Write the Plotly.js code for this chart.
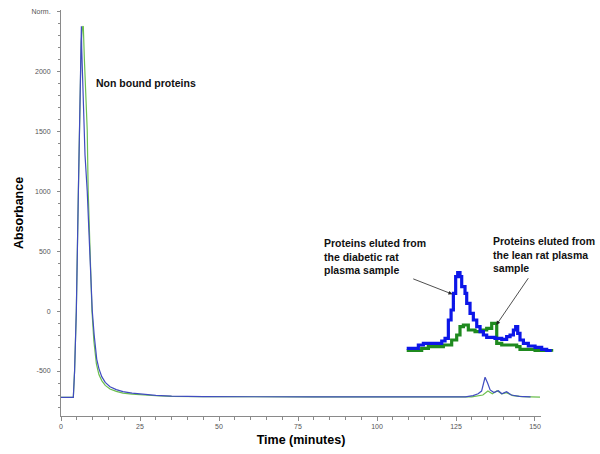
<!DOCTYPE html>
<html>
<head>
<meta charset="utf-8">
<script src="https://cdn.plot.ly/plotly-3.0.1.min.js"></script>
<style>html,body{margin:0;padding:0;background:#fff;}#chart{width:600px;height:454px;}</style>
</head>
<body>
<div id="chart"></div>
<script>
// Main chromatogram: diabetic rat plasma (blue)
const blueTime = [0, 3.9, 4.3, 4.85, 5.5, 6.0, 6.33, 6.45, 6.55, 7.06, 7.6, 8.3, 8.9, 9.4, 9.9, 10.5, 11.3, 12.0, 12.9, 14, 15.5, 17.5, 19.6, 22.5, 26, 30, 35, 45, 80, 128, 130.4, 132, 133.1, 134.2, 135, 135.8, 137, 138.4, 139.5, 141, 142.5, 145, 148.6];
const blueAbs  = [-720, -720, -500, 0, 1000, 1700, 2375, 2375, 2190, 1700, 1300, 1000, 600, 340, 0, -200, -400, -480, -547, -595, -631, -655, -672, -685, -694, -703, -710, -714, -715, -715, -705, -690, -667, -552, -600, -658, -680, -664, -690, -672, -700, -712, -715];
// Main chromatogram: lean rat plasma (green)
const greenTime = [0, 3.9, 4.3, 4.85, 5.5, 6.0, 6.4, 6.8, 7.06, 7.4, 8.3, 8.6, 8.9, 9.4, 9.8, 10.4, 11.2, 12.0, 12.9, 14, 15.5, 17.5, 19.6, 22.5, 26, 30, 35, 45, 80, 130, 133.5, 135.1, 136.5, 138, 139.5, 141, 143, 146, 151.6];
const greenAbs  = [-720, -720, -500, 0, 1000, 1700, 2250, 2370, 2375, 2100, 1508, 1000, 780, 340, 0, -250, -440, -530, -580, -620, -650, -670, -684, -693, -700, -706, -711, -714, -715, -715, -700, -667, -690, -664, -690, -680, -705, -714, -718];
// Inset (enlarged late-eluting region, step trace)
const insetBlueTime = [128.2, 129.57, 130.16, 132.32, 132.71, 133.10, 133.42, 133.69, 133.96, 134.2, 134.47, 134.67, 135.06, 135.26, 135.65, 136.04, 136.44, 136.83, 137.22, 137.61, 138.59, 139.38, 139.96, 140.36, 140.75, 141.02, 141.26, 141.53, 141.93, 142.51, 143.30, 144.08, 144.67, 145.26];
const insetBlueAbs  = [7.3, 14, 17.3, 22, 27.3, 64, 84, 117.3, 150.7, 158.7, 150.7, 130.7, 117.3, 97.3, 77.3, 64, 50.7, 40.7, 34, 29.3, 27.3, 25.3, 30.7, 34, 44, 50.7, 37.3, 24, 17.3, 12, 9.3, 5.3, 2.7, 2.7];
const insetGreenTime = [128.2, 129.96, 130.75, 132.51, 133.49, 134.08, 134.47, 134.87, 135.45, 136.24, 137.02, 137.61, 138.2, 138.79, 139.38, 141.14, 141.53, 143.3, 145.26];
const insetGreenAbs  = [2.7, 7.3, 10.7, 14, 24, 34, 50.7, 54, 44, 40.7, 44, 47.3, 57.3, 17.3, 14, 10.7, 5.3, 2.7, 0.7];
// Axis ticks
const xTickVals = [0, 25, 50, 75, 100, 125, 150];
const yTickVals = [-500, 0, 500, 1000, 1500, 2000, 2500];
const yTickText = ['-500', '0', '500', '1000', '1500', '2000', 'Norm.'];

const traces = [
  {x: greenTime, y: greenAbs, type: 'scatter', mode: 'lines', line: {color: '#6cbf4e', width: 1.2}, xaxis: 'x', yaxis: 'y', hoverinfo: 'skip'},
  {x: blueTime, y: blueAbs, type: 'scatter', mode: 'lines', line: {color: '#404cc0', width: 1.2}, xaxis: 'x', yaxis: 'y', hoverinfo: 'skip'},
  {x: insetGreenTime, y: insetGreenAbs, type: 'scatter', mode: 'lines', line: {color: '#1f8a1f', width: 3.2, shape: 'hv'}, xaxis: 'x2', yaxis: 'y2', hoverinfo: 'skip'},
  {x: insetBlueTime, y: insetBlueAbs, type: 'scatter', mode: 'lines', line: {color: '#0c16e8', width: 3.2, shape: 'hv'}, xaxis: 'x2', yaxis: 'y2', hoverinfo: 'skip'}
];

const tickFont = {family: 'Arial, Liberation Sans, sans-serif', size: 7, color: '#555'};
const titleFont = {family: 'Arial, Liberation Sans, sans-serif', size: 12.5, color: '#000', weight: 'bold'};
const noteFont = {family: 'Arial, Liberation Sans, sans-serif', size: 10.5, color: '#111', weight: 'bold'};

const layout = {
  width: 600, height: 454,
  margin: {l: 61, r: 40, t: 10, b: 38},
  paper_bgcolor: '#fff', plot_bgcolor: '#fff',
  showlegend: false,
  xaxis: {
    domain: [0, 0.96192], range: [0, 151.9], anchor: 'y',
    showgrid: false, zeroline: false, showline: true, linecolor: '#8a8a8a', linewidth: 1,
    tickmode: 'array', tickvals: xTickVals, ticks: 'outside', ticklen: 4, tickcolor: '#8a8a8a', tickfont: tickFont,
    minor: {dtick: 5, ticks: 'outside', ticklen: 3, tickcolor: '#8a8a8a'},
    title: {text: 'Time (minutes)', font: titleFont, standoff: 5},
    automargin: false, fixedrange: true
  },
  yaxis: {
    domain: [0, 1], range: [-875, 2510], anchor: 'x',
    showgrid: false, zeroline: false, showline: true, linecolor: '#8a8a8a', linewidth: 1,
    tickmode: 'array', tickvals: yTickVals, ticktext: yTickText, ticks: 'outside', ticklen: 3, tickcolor: '#8a8a8a', tickfont: tickFont,
    ticklabelstandoff: 5,
    minor: {dtick: 100, ticks: 'outside', ticklen: 2, tickcolor: '#8a8a8a'},
    title: {text: 'Absorbance', font: titleFont, standoff: 5},
    automargin: false, fixedrange: true
  },
  xaxis2: {domain: [0.6894, 0.98747], range: [128, 145.5], anchor: 'y2', visible: false, fixedrange: true},
  yaxis2: {domain: [0.1576, 0.3596], range: [0, 164], anchor: 'x2', visible: false, fixedrange: true},
  annotations: [
    {text: 'Non bound proteins', xref: 'paper', yref: 'paper', x: 0.0661, y: 0.8202, xanchor: 'left', yanchor: 'middle', showarrow: false, font: noteFont},
    {text: 'Proteins eluted from<br>the diabetic rat<br>plasma sample', xref: 'paper', yref: 'paper', x: 0.5230, y: 0.3929, xanchor: 'left', yanchor: 'middle', align: 'left', showarrow: false, font: noteFont},
    {text: 'Proteins eluted from<br>the lean rat plasma<br>sample', xref: 'paper', yref: 'paper', x: 0.8623, y: 0.3985, xanchor: 'left', yanchor: 'middle', align: 'left', showarrow: false, font: noteFont},
    {text: '', xref: 'x2', yref: 'y2', x: 133.58, y: 115.6, ax: -40.7, ay: -15.9, showarrow: true, arrowhead: 2, arrowsize: 1, arrowwidth: 0.8, arrowcolor: '#222', standoff: 0},
    {text: '', xref: 'x2', yref: 'y2', x: 138.74, y: 54, ax: 33, ay: -48.3, showarrow: true, arrowhead: 2, arrowsize: 1, arrowwidth: 0.8, arrowcolor: '#222', standoff: 0}
  ]
};

Plotly.newPlot('chart', traces, layout, {displayModeBar: false, staticPlot: true});
</script>
</body>
</html>
